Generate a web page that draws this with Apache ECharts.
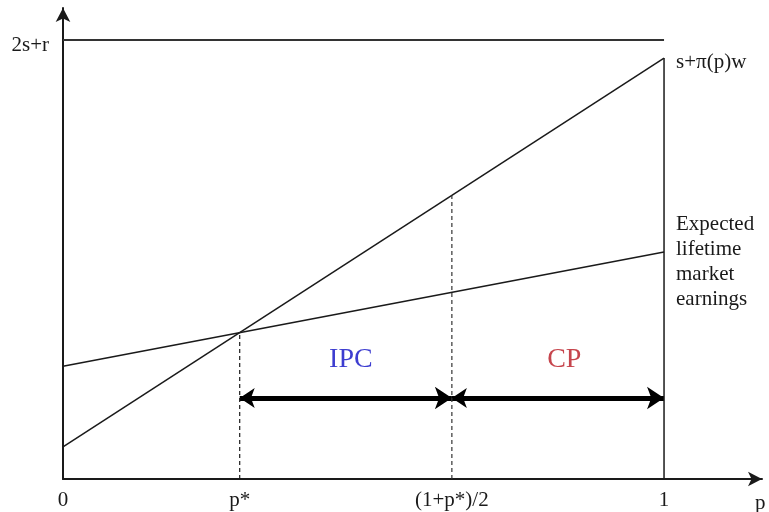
<!DOCTYPE html>
<html>
<head>
<meta charset="utf-8">
<script src="https://cdn.jsdelivr.net/npm/echarts@6/dist/echarts.min.js"></script>
<style>html,body{margin:0;padding:0;background:#fff}#c{width:769px;height:512px}</style>
</head>
<body>
<div id="c"></div>
<script>
// Data
const pStar = 0.294;
const pMid = 0.647;
const xTickValues = [0, pStar, pMid, 1];
const xTickLabels = ['0', 'p*', '(1+p*)/2', '1'];
const yTickValues = [1];
const yTickLabels = ['2s+r'];
const ceilingLine = [[0, 1], [1, 1]];
const payLine = [[0, 0.073], [1, 0.959]];
const earningsLine = [[0, 0.257], [1, 0.517]];
const rightEdge = [[1, 0], [1, 0.959]];
const dashP = [[pStar, 0], [pStar, 0.334]];
const dashMid = [[pMid, 0], [pMid, 0.646]];
const arrowY = 0.1845;
const ipcArrow = [[pStar, arrowY], [pMid, arrowY]];
const cpArrow = [[pMid, arrowY], [1, arrowY]];
const regionNames = ['IPC', 'CP'];
const regionPositions = [[0.479, 0.273], [0.834, 0.273]];
const regionColors = ['#0c0cc4', '#b81620'];
const payLabel = 's+π(p)w';
const earningsLabel = 'Expected\nlifetime\nmarket\nearnings';

const serif = 'Liberation Serif';
const ink = '#1a1a1a';
const chart = echarts.init(document.getElementById('c'));

function plainLine(data, extra) {
  return Object.assign({
    type: 'line', data: data, showSymbol: false, symbol: 'none', silent: true,
    lineStyle: {color: ink, width: 1.5}, animation: false
  }, extra || {});
}

chart.setOption({
  animation: false,
  grid: {left: 63, right: 7, top: 8, bottom: 33, outerBoundsMode: 'none', containLabel: false},
  xAxis: {
    type: 'value', min: 0, max: 1.163,
    axisLine: {show: true, lineStyle: {color: ink, width: 2}, symbol: ['none', 'arrow'], symbolSize: [11, 14]},
    splitLine: {show: false}, axisTick: {show: false},
    axisLabel: {
      customValues: xTickValues,
      formatter: v => { const i = xTickValues.findIndex(t => Math.abs(t - v) < 1e-6); return i >= 0 ? xTickLabels[i] : ''; },
      color: ink, fontFamily: serif, fontSize: 21, margin: 11
    },
    name: 'p', nameLocation: 'end', nameGap: -7,
    nameTextStyle: {color: ink, fontFamily: serif, fontSize: 21, verticalAlign: 'top', padding: [14, 0, 0, 0]}
  },
  yAxis: {
    type: 'value', min: 0, max: 1.073,
    axisLine: {show: true, lineStyle: {color: ink, width: 2}, symbol: ['none', 'arrow'], symbolSize: [11, 14]},
    splitLine: {show: false}, axisTick: {show: false},
    axisLabel: {
      customValues: yTickValues,
      formatter: v => { const i = yTickValues.findIndex(t => Math.abs(t - v) < 1e-6); return i >= 0 ? yTickLabels[i] : ''; },
      color: ink, fontFamily: serif, fontSize: 21, margin: 14, verticalAlign: 'top', lineHeight: 10
    }
  },
  series: [
    plainLine(ceilingLine, {lineStyle: {color: '#333', width: 2}}),
    plainLine(rightEdge, {lineStyle: {color: ink, width: 1.5}}),
    plainLine(payLine, {
      endLabel: {show: true, formatter: payLabel, color: ink, fontFamily: serif, fontSize: 21, distance: 12, offset: [0, 4]}
    }),
    plainLine(earningsLine, {
      endLabel: {show: true, formatter: earningsLabel, color: ink, fontFamily: serif, fontSize: 21, lineHeight: 25, distance: 12, offset: [0, 10]}
    }),
    plainLine(dashP, {lineStyle: {color: ink, width: 1.2, type: [4, 3]}}),
    plainLine(dashMid, {lineStyle: {color: '#333', width: 1.2, type: [4, 3]}}),
    {
      type: 'lines', coordinateSystem: 'cartesian2d', polyline: false, silent: true, animation: false,
      symbol: ['arrow', 'arrow'], symbolSize: [15, 17],
      lineStyle: {color: '#000', width: 5, opacity: 1},
      data: [{coords: ipcArrow}, {coords: cpArrow}]
    },
    {
      type: 'scatter', symbolSize: 0, silent: true, animation: false,
      data: regionNames.map((n, i) => ({
        name: n, value: regionPositions[i],
        label: {show: true, position: 'inside', formatter: n, color: regionColors[i], fontFamily: serif, fontSize: 28}
      }))
    }
  ]
});
</script>
</body>
</html>
